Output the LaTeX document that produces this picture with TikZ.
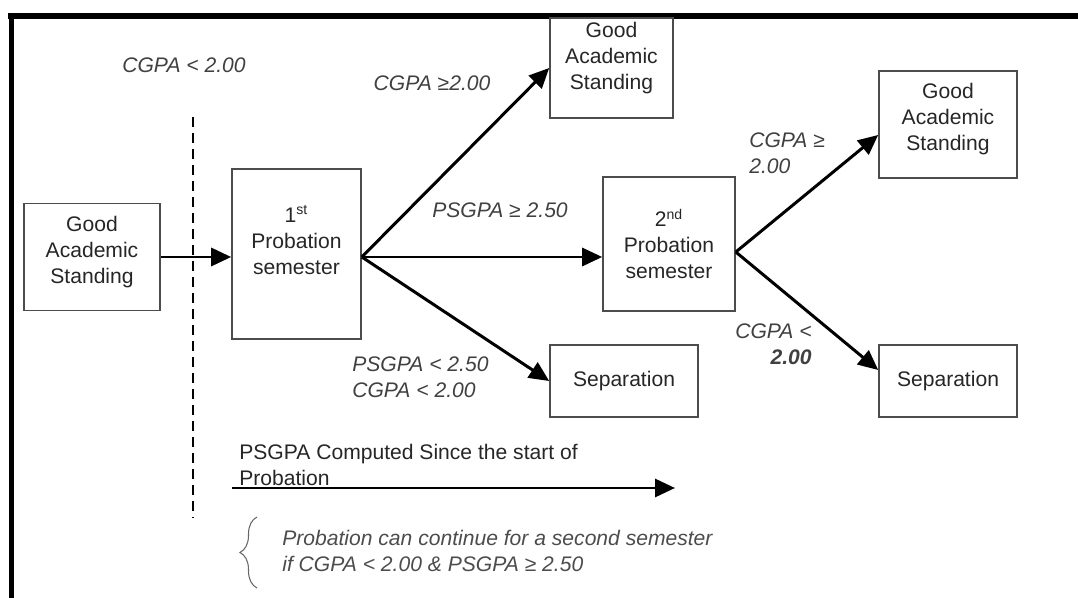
\documentclass[tikz,border=0pt]{standalone}
\usepackage{fontspec}
\setmainfont{Liberation Sans}
\usetikzlibrary{arrows.meta,positioning,calc,decorations.pathreplacing}

\begin{document}
\begin{tikzpicture}[
  x=1cm, y=1cm,
  font=\fontsize{12}{14.8}\selectfont,
  block/.style={draw=black!70, line width=0.9pt, align=center, text=black!85, inner sep=2pt},
  cond/.style={font=\fontsize{12}{14.8}\selectfont\itshape, text=black!75, inner sep=0pt},
  note/.style={align=left, text=black!85, inner sep=0pt},
  arrow/.style={-{Triangle[length=0.4cm, width=0.36cm]}, line width=1.7pt},
  divider/.style={dash pattern=on 0.2cm off 0.12cm, line width=1.1pt},
  frameline/.style={line width=2.4pt}
]
\useasboundingbox (0,0) rectangle (21.56,-11.96);

% frame
\draw[frameline] (0.23,-11.96) -- (0.23,-0.30);
\draw[line width=3.4pt] (0.16,-0.32) -- (21.56,-0.32);

\node[block, minimum width=2.72cm, minimum height=2.14cm] (gas0)  at (1.84, -5.14) {Good\\Academic\\Standing\\[-6.6pt]\mbox{}};
\node[block, minimum width=2.58cm, minimum height=3.40cm] (prob1) at (5.93, -5.08) {1\textsuperscript{st}\\Probation\\semester\\[1.2pt]\mbox{}};
\node[block, minimum width=2.46cm, minimum height=2.00cm] (gas1)  at (12.23, -1.36) {Good\\Academic\\Standing\\[-1pt]\mbox{}};
\node[block, minimum width=2.96cm, minimum height=1.44cm] (sep1)  at (12.48, -7.62) {Separation};
\node[block, minimum width=2.64cm, minimum height=2.68cm] (prob2) at (13.38, -4.88) {2\textsuperscript{nd}\\Probation\\semester};
\node[block, minimum width=2.76cm, minimum height=2.14cm] (gas2)  at (18.96, -2.49) {Good\\Academic\\Standing\\[-6.1pt]\mbox{}};
\node[block, minimum width=2.76cm, minimum height=1.44cm] (sep2)  at (18.96, -7.62) {Separation};

\coordinate (fork1) at ([yshift=-0.06cm]prob1.east);
\coordinate (fork2) at ([yshift=-0.16cm]prob2.east);
\coordinate (dtop) at (3.86, -2.34);
\coordinate (dbot) at (3.86, -10.36);
\coordinate (pstart) at (4.64, -9.76);
\coordinate (pend) at (13.5, -9.76);
\coordinate (bbot) at (5.14, -11.76);
\coordinate (btop) at (5.14, -10.34);

\node[cond] (c0) at (3.68, -1.30) {CGPA < 2.00};
\node[cond] (c1) at (8.64, -1.66) {CGPA ≥2.00};
\node[cond] (c2) at (10.0, -4.20) {PSGPA ≥ 2.50};
\node[cond, anchor=west, align=left] (c3) at (7.04, -7.54) {PSGPA < 2.50\\CGPA < 2.00};
\node[cond, anchor=west, align=left] (c4) at (14.98, -3.07) {CGPA ≥\\2.00};
\node[cond, anchor=east, align=right] (c5) at (16.24, -6.89) {CGPA <\\\textbf{2.00}};

\node[note, anchor=west] (psgpa) at (4.78, -9.29) {PSGPA Computed Since the start of\\Probation};
\node[cond, anchor=west, align=left, text=black!70] (cont) at (5.64, -11.01) {Probation can continue for a second semester\\if CGPA < 2.00 \& PSGPA ≥ 2.50};

\draw[divider] (dtop) -- (dbot);

\draw[arrow] (gas0.east) -- (gas0.east -| prob1.west);
\draw[arrow] (fork1) -- (gas1.west);
\draw[arrow] (fork1) -- (fork1 -| prob2.west);
\draw[arrow] (fork1) -- (sep1.west);
\draw[arrow] (fork2) -- ([yshift=-0.21cm]gas2.west);
\draw[arrow] (fork2) -- ([yshift=0.22cm]sep2.west);
\draw[arrow] (pstart) -- (pend);

\draw[black!60, line width=0.6pt, decorate, decoration={brace, amplitude=0.34cm}] (bbot) -- (btop);
\end{tikzpicture}
\end{document}
